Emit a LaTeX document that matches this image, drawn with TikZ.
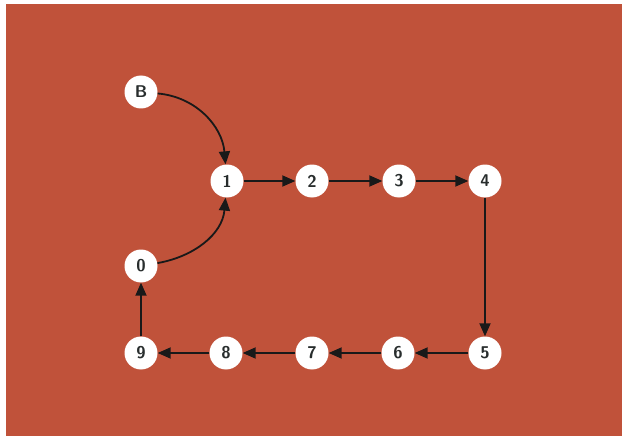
\documentclass[tikz,border=0pt]{standalone}
\usetikzlibrary{arrows.meta}
\definecolor{bgred}{RGB}{192,82,58}
\definecolor{txt}{RGB}{40,45,45}
\begin{document}
\begin{tikzpicture}[x=1pt,y=-1pt,
  vtx/.style={circle,fill=white,draw=none,minimum size=33pt,inner sep=0pt,
    font=\fontsize{17}{20}\selectfont\sffamily\bfseries,text=txt},
  arr/.style={line width=1.8pt,draw=black!90,-{Triangle[length=13pt,width=11pt]}}]
\useasboundingbox (0,0) rectangle (622,436);
\fill[white] (0,0) rectangle (622,436);
\fill[bgred] (6,4) rectangle (622,436);
\node[vtx] (B) at (141,92) {B};
\node[vtx] (n1) at (227,181) {1};
\node[vtx] (n2) at (312,181) {2};
\node[vtx] (n3) at (399,181) {3};
\node[vtx] (n4) at (485,181) {4};
\node[vtx] (n0) at (141,266) {0};
\node[vtx] (n9) at (141,353) {9};
\node[vtx] (n8) at (226,353) {8};
\node[vtx] (n7) at (312,353) {7};
\node[vtx] (n6) at (398,353) {6};
\node[vtx] (n5) at (485,353) {5};
\draw[arr] (B) to[out=-5,in=95] (n1);
\draw[arr] (n0) to[out=10,in=-95] (n1);
\draw[arr] (n1) -- (n2);
\draw[arr] (n2) -- (n3);
\draw[arr] (n3) -- (n4);
\draw[arr] (n4) -- (n5);
\draw[arr] (n5) -- (n6);
\draw[arr] (n6) -- (n7);
\draw[arr] (n7) -- (n8);
\draw[arr] (n8) -- (n9);
\draw[arr] (n9) -- (n0);
\end{tikzpicture}
\end{document}
